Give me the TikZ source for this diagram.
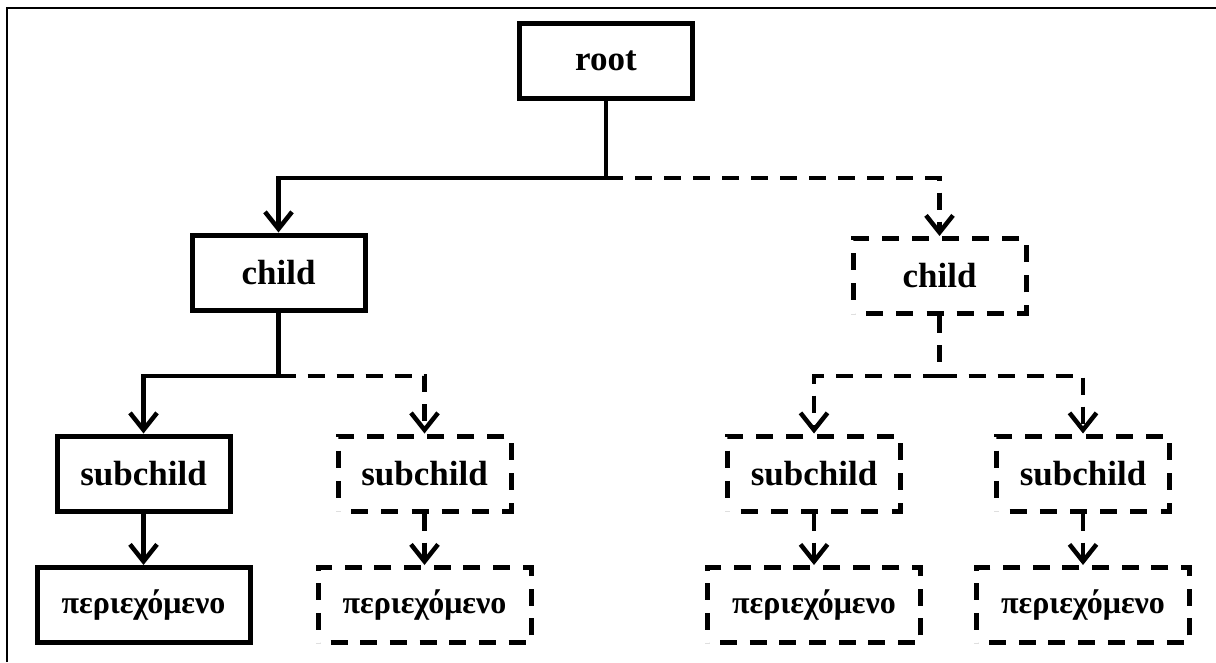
\documentclass[tikz,border=0pt]{standalone}
\usepackage{fontspec}
\setmainfont{Liberation Serif}
\usetikzlibrary{arrows.meta,decorations}
\begin{document}
\begin{tikzpicture}[x=1pt,y=-1pt,
  lbl/.style={font=\fontsize{35}{35}\selectfont\bfseries},
  grk/.style={font=\fontsize{32}{32}\selectfont\bfseries},
  box/.style={draw, line width=5pt, inner sep=0pt, minimum width=173pt, minimum height=75pt},
  dashbox/.style={box, dash pattern=on 17pt off 12pt, dash expand off},
  widebox/.style={minimum width=213pt},
  link/.style={draw, line width=4.5pt, -{Straight Barb[length=17pt,width=27pt,line width=4.5pt]}},
  dlink/.style={link, dash pattern=on 17pt off 12pt},
  dstem/.style={draw, line width=4.5pt, dash pattern=on 17pt off 12pt}
]
\useasboundingbox (0,0) rectangle (1216,662);
% frame
\draw[line width=2pt] (7,662) -- (7,8) -- (1216,8);

% tree nodes
\node[box, lbl] (root) at (606,61) {root};
\node[box, lbl] (c1) at (278.5,272.5) {child};
\node[dashbox, lbl] (c2) at (939.5,276) {child};

\node[box, lbl] (s1) at (143.5,473.5) {subchild};
\node[dashbox, lbl] (s2) at (424.5,473.5) {subchild};
\node[dashbox, lbl] (s3) at (814,473.5) {subchild};
\node[dashbox, lbl] (s4) at (1083,473.5) {subchild};

\node[box, widebox, grk] (k1) at (143.5,605) {περιεχόμενο};
\node[dashbox, widebox, grk] (k2) at (424.5,605) {περιεχόμενο};
\node[dashbox, widebox, grk] (k3) at (814,605) {περιεχόμενο};
\node[dashbox, widebox, grk] (k4) at (1083,605) {περιεχόμενο};

% branch levels
\coordinate (b0) at (0,178);
\coordinate (b1) at (0,376);

% connectors
\draw[link] (root.south) -- (root.south |- b0) -| (c1.north);
\draw[dlink] (root.south |- b0) -| (c2.north);

\draw[link] (c1.south) -- (c1.south |- b1) -| (s1.north);
\draw[dlink] (c1.south |- b1) -| (s2.north);

\draw[dstem] (c2.south) -- (c2.south |- b1);
\draw[dlink] (c2.south |- b1) -| (s3.north);
\draw[dlink] (c2.south |- b1) -| (s4.north);

\draw[link] (s1.south) -- (k1.north);
\draw[dlink] (s2.south) -- (k2.north);
\draw[dlink] (s3.south) -- (k3.north);
\draw[dlink] (s4.south) -- (k4.north);
\end{tikzpicture}
\end{document}
